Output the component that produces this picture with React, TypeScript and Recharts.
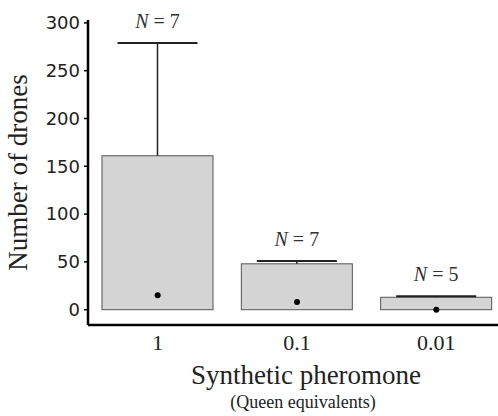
import { ComposedChart, Bar, Scatter, XAxis, YAxis } from 'recharts';

// Drone counts per synthetic pheromone dose
const doses = ["1", "0.1", "0.01"];
const barValues = [161, 48, 13];
const upperWhisker = [279, 51, 14];
const medians = [15, 8, 0];
const sampleSizes = [7, 7, 5];
const yTicks = [0, 50, 100, 150, 200, 250, 300];

const data = doses.map((dose, i) => ({
  dose,
  value: barValues[i],
  upper: upperWhisker[i],
  median: medians[i],
  n: sampleSizes[i],
}));

const SERIF = '"Liberation Serif", "Times New Roman", serif';
const SANS = '"DejaVu Sans", sans-serif';

const BoxShape = (props: any) => {
  const { x, y, width, height, payload } = props;
  const base = y + height;
  const k = payload.value ? height / payload.value : 0;
  const wy = base - payload.upper * k;
  const cx = x + width / 2;
  return (
    <g>
      <rect x={x} y={y} width={width} height={height} fill="#d4d4d4" stroke="#555" strokeWidth={1} />
      <line x1={cx} x2={cx} y1={y} y2={wy} stroke="#222" strokeWidth={1.5} />
      <line x1={cx - 40} x2={cx + 40} y1={wy} y2={wy} stroke="#222" strokeWidth={2} />
      <text x={cx} y={wy - 15} textAnchor="middle" fontFamily={SERIF} fontSize={20} fill="#333">
        <tspan fontStyle="italic">N</tspan> = {payload.n}
      </text>
    </g>
  );
};

const MedianDot = (props: any) => {
  const { cx, cy } = props;
  return <circle cx={cx} cy={cy} r={3} fill="#000" />;
};

export default function App() {
  return (
    <div style={{ position: 'absolute', left: 0, top: 0, width: 498, height: 416, overflow: 'hidden', background: '#fff' }}>
      <ComposedChart width={506} height={416} data={data} margin={{ top: 20, right: 0, bottom: 0, left: 0 }}>
        <XAxis
          dataKey="dose"
          axisLine={{ stroke: '#000', strokeWidth: 2.5 }}
          tickLine={false}
          tickSize={0}
          tickMargin={9}
          height={91}
          tick={{ fontFamily: SERIF, fontSize: 22, fill: '#222' }}
          label={{
            content: ({ viewBox }: any) => {
              const cx = viewBox.x + viewBox.width / 2 + 9;
              return (
                <g fontFamily={SERIF} fill="#222" textAnchor="middle">
                  <text x={cx} y={viewBox.y + 59} fontSize={27}>Synthetic pheromone</text>
                  <text x={cx - 3} y={viewBox.y + 83} fontSize={18}>(Queen equivalents)</text>
                </g>
              );
            },
          }}
        />
        <YAxis
          width={88}
          domain={[-16, 303]}
          ticks={yTicks}
          axisLine={{ stroke: '#000', strokeWidth: 2.5 }}
          tickLine={{ stroke: '#000', strokeWidth: 1.5 }}
          tickSize={4}
          tickMargin={4}
          tick={{ fontFamily: SANS, fontSize: 18, fill: '#222' }}
          label={{
            content: ({ viewBox }: any) => {
              const cy = viewBox.y + viewBox.height / 2;
              return (
                <text x={27} y={cy} transform={`rotate(-90 27 ${cy})`} textAnchor="middle" fontFamily={SERIF} fontSize={27} fill="#222">
                  Number of drones
                </text>
              );
            },
          }}
        />
        <Bar dataKey="value" barSize={111} shape={<BoxShape />} isAnimationActive={false} />
        <Scatter dataKey="median" shape={<MedianDot />} isAnimationActive={false} />
      </ComposedChart>
    </div>
  );
}
